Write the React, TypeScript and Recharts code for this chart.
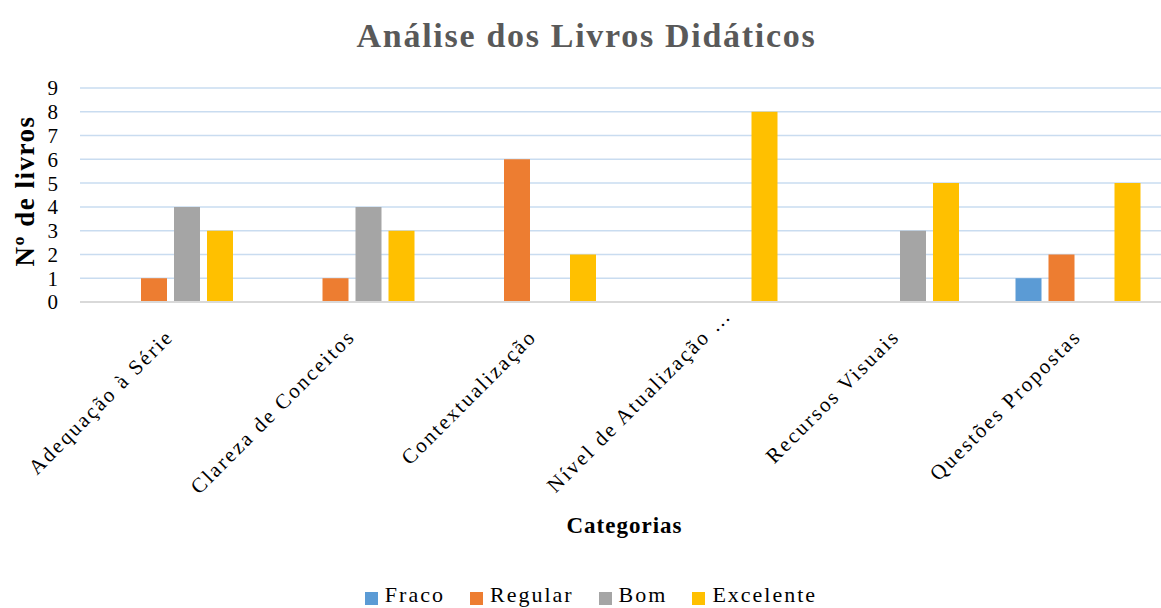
import { BarChart, Bar, XAxis, YAxis, CartesianGrid, Legend, Label } from "recharts";

const categorias = [
  "Adequação à Série",
  "Clareza de Conceitos",
  "Contextualização",
  "Nível de Atualização …",
  "Recursos Visuais",
  "Questões Propostas",
];
const series = ["Fraco", "Regular", "Bom", "Excelente"];
const fraco = [0, 0, 0, 0, 0, 1];
const regular = [1, 1, 6, 0, 0, 2];
const bom = [4, 4, 0, 0, 3, 0];
const excelente = [3, 3, 2, 8, 5, 5];
const yTicks = [0, 1, 2, 3, 4, 5, 6, 7, 8, 9];

const data = categorias.map((nome, i) => ({
  nome,
  Fraco: fraco[i],
  Regular: regular[i],
  Bom: bom[i],
  Excelente: excelente[i],
}));

const FONT = '"Liberation Serif", "Times New Roman", serif';

// rotated category label; a trailing "…" is drawn past the tick like Excel does
function CatTick({ x, y, payload }: any) {
  const value: string = payload.value;
  const cut = value.endsWith("…");
  const main = cut ? value.slice(0, -1).trimEnd() : value;
  const ax = cut ? x - 4 : x + 4;
  const ay = y + 34;
  const common = {
    fontFamily: FONT,
    fontSize: 21,
    letterSpacing: 2.2,
    fill: "#000",
  };
  return (
    <g transform={`rotate(-45 ${ax} ${ay})`}>
      <text x={ax} y={ay} textAnchor="end" {...common}>
        {main}
      </text>
      {cut && (
        <text x={ax + 7} y={ay} textAnchor="start" {...common} letterSpacing={3}>
          …
        </text>
      )}
    </g>
  );
}

export default function App() {
  return (
    <div
      style={{
        position: "absolute",
        left: 0,
        top: 0,
        width: 1161,
        height: 608,
        overflow: "hidden",
        background: "#fff",
      }}
    >
      <div
        style={{
          position: "absolute",
          top: 17,
          width: 1161,
          textAlign: "center",
          fontFamily: FONT,
          fontWeight: "bold",
          fontSize: 34,
          letterSpacing: 1.7,
          color: "#595959",
          paddingLeft: 12,
          boxSizing: "border-box",
        }}
      >
        Análise dos Livros Didáticos
      </div>
      <BarChart
        width={1175}
        height={608}
        data={data}
        margin={{ top: 88, right: 6, bottom: 0, left: 0 }}
        barSize={26}
        barGap={7}
        style={{ position: "absolute", left: 0, top: 0 }}
      >
        <CartesianGrid vertical={false} stroke="#c9dcf0" strokeWidth={1.5} />
        <XAxis
          dataKey="nome"
          interval={0}
          tick={<CatTick />}
          tickLine={false}
          tickSize={0}
          height={280}
          axisLine={{ stroke: "#d9d9d9", strokeWidth: 2 }}
        >
          <Label
            value="Categorias"
            position="insideBottom"
            offset={49}
            fontFamily={FONT}
            fontWeight="bold"
            fontSize={23}
            letterSpacing={1}
            fill="#000"
          />
        </XAxis>
        <YAxis
          domain={[0, 9]}
          ticks={yTicks}
          interval={0}
          width={80}
          tickLine={false}
          axisLine={false}
          tickSize={0}
          tickMargin={22}
          tick={{ fontFamily: FONT, fontSize: 21, fill: "#000" }}
        >
          <Label
            value="Nº de livros"
            angle={-90}
            position="insideLeft"
            offset={0}
            dx={24}
            dy={-4}
            fontFamily={FONT}
            fontWeight="bold"
            fontSize={27}
            letterSpacing={1.5}
            fill="#000"
            style={{ textAnchor: "middle" }}
          />
        </YAxis>
        <Legend
          verticalAlign="bottom"
          align="center"
          iconType="square"
          iconSize={13}
          itemSorter={(item: any) => series.indexOf(item.value)}
          formatter={(v: string) => (
            <span
              style={{
                color: "#000",
                fontFamily: FONT,
                fontSize: 22,
                letterSpacing: 2,
                marginLeft: 3,
                marginRight: 15,
              }}
            >
              {v}
            </span>
          )}
          wrapperStyle={{ paddingLeft: 19 }}
        />
        <Bar dataKey="Fraco" fill="#5b9bd5" isAnimationActive={false} />
        <Bar dataKey="Regular" fill="#ed7d31" isAnimationActive={false} />
        <Bar dataKey="Bom" fill="#a5a5a5" isAnimationActive={false} />
        <Bar dataKey="Excelente" fill="#ffc000" isAnimationActive={false} />
      </BarChart>
    </div>
  );
}
